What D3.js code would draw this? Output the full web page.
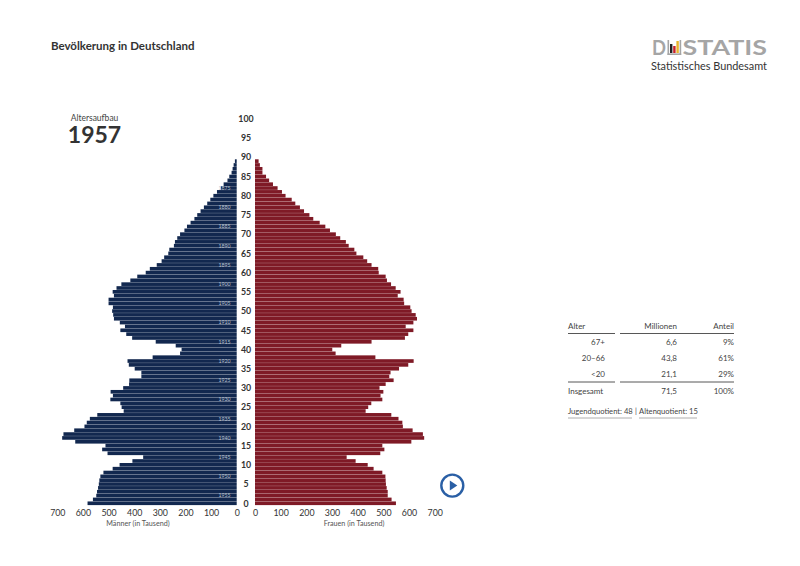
<!DOCTYPE html>
<html>
<head>
<meta charset="UTF-8">
<title>Bevölkerung in Deutschland</title>
<script src="https://cdn.jsdelivr.net/npm/d3@7"></script>
<style>
html, body { margin: 0; padding: 0; background: #fff; }
svg { display: block; }
text { font-family: Lato, sans-serif; fill: #333; }
</style>
</head>
<body>
<svg id="chart" width="800" height="566"></svg>
<script>
// population by age 0..89, thousands
var maleValues = [582, 561, 548, 545, 541, 538, 536, 532, 520, 484,
    457, 407, 365, 504, 525, 512, 630, 681, 676, 634,
    594, 585, 573, 544, 441, 449, 454, 493, 483, 492,
    443, 420, 419, 372, 372, 398, 421, 426, 328, 221,
    215, 238, 316, 408, 431, 454, 436, 456, 479, 482,
    486, 483, 500, 500, 479, 484, 469, 450, 415, 388,
    355, 339, 312, 293, 283, 267, 263, 245, 241, 232,
    221, 204, 194, 180, 165, 154, 141, 128, 115, 103,
    91, 77, 62, 51, 36, 29, 20, 16, 12, 7];
var femaleValues = [549, 532, 517, 517, 513, 510, 509, 508, 496, 462,
    439, 392, 357, 488, 504, 496, 609, 659, 654, 614,
    576, 574, 559, 531, 431, 441, 453, 496, 489, 500,
    485, 509, 540, 523, 528, 561, 597, 618, 469, 314,
    301, 336, 454, 584, 597, 617, 587, 617, 631, 626,
    610, 605, 581, 579, 556, 567, 548, 530, 514, 509,
    482, 480, 454, 437, 422, 395, 387, 365, 354, 332,
    315, 292, 274, 252, 227, 212, 191, 175, 157, 143,
    119, 105, 88, 70, 55, 43, 29, 29, 19, 14];
var ageTicks = d3.range(0, 101, 5);
var valueTicks = [0, 100, 200, 300, 400, 500, 600, 700];
var birthYears = d3.range(1875, 1956, 5);
var shownYear = 1957;

var tableHeader = ["Alter", "Millionen", "Anteil"];
var tableAges = ["67+", "20–66", "<20"];
var tableMillions = ["6,6", "43,8", "21,1"];
var tableShares = ["9%", "61%", "29%"];
var tableTotal = ["Insgesamt", "71,5", "100%"];

var svg = d3.select("#chart");

svg.append("text").attr("x", 51).attr("y", 49.5)
    .style("font-size", "11.5px").style("font-weight", 700)
    .text("Bevölkerung in Deutschland");

// scales
var xMale = d3.scaleLinear().domain([0, 700]).range([236.7, 57.3]);
var xFemale = d3.scaleLinear().domain([0, 700]).range([255, 434.7]);
var yBand = d3.scaleBand().domain(d3.range(0, 90)).range([505.3, 159.3]);
var yAge = d3.scaleLinear().domain([0, 100]).range([503.3, 118.7]);

// bars, the faint line between them comes from the small gap
svg.append("g").selectAll("rect").data(maleValues).enter().append("rect")
    .attr("x", function(d) { return xMale(d); })
    .attr("y", function(d, i) { return yBand(i); })
    .attr("width", function(d) { return xMale(0) - xMale(d); })
    .attr("height", yBand.bandwidth() - 0.2)
    .attr("fill", "#12284f");

svg.append("g").selectAll("rect").data(femaleValues).enter().append("rect")
    .attr("x", xFemale(0))
    .attr("y", function(d, i) { return yBand(i); })
    .attr("width", function(d) { return xFemale(d) - xFemale(0); })
    .attr("height", yBand.bandwidth() - 0.2)
    .attr("fill", "#7f1a26");

// birth years inside the male bars
svg.append("g").selectAll("text").data(birthYears).enter().append("text")
    .attr("x", 224.5)
    .attr("y", function(d) { return yBand(shownYear - d) + yBand.bandwidth() / 2 + 1.8; })
    .attr("text-anchor", "middle")
    .style("font-size", "5.2px")
    .style("fill", "#b9c1d0")
    .text(function(d) { return d; });

// axes
function styleAxis(g) {
    g.select(".domain").remove();
    g.selectAll(".tick line").remove();
    g.selectAll("text").style("font-family", "Lato, sans-serif")
        .style("font-size", "8.8px").style("fill", "#333");
}

svg.append("g").attr("transform", "translate(0,506.5)")
    .call(d3.axisBottom(xMale).tickValues(valueTicks).tickFormat(d3.format("d")).tickSize(0).tickPadding(3))
    .call(styleAxis);
svg.append("g").attr("transform", "translate(0,506.5)")
    .call(d3.axisBottom(xFemale).tickValues(valueTicks).tickFormat(d3.format("d")).tickSize(0).tickPadding(3))
    .call(styleAxis);

svg.append("g").attr("transform", "translate(246,0)")
    .call(d3.axisRight(yAge).tickValues(ageTicks).tickFormat(d3.format("d")).tickSize(0).tickPadding(0))
    .call(styleAxis)
    .call(function(g) {
        g.selectAll("text").attr("text-anchor", "middle").style("font-weight", 700);
    });

svg.append("text").attr("x", 138).attr("y", 525.5).attr("text-anchor", "middle")
    .style("font-size", "7.2px").style("fill", "#555").text("Männer (in Tausend)");
svg.append("text").attr("x", 354).attr("y", 525.5).attr("text-anchor", "middle")
    .style("font-size", "7.2px").style("fill", "#555").text("Frauen (in Tausend)");

// year
svg.append("text").attr("x", 94.5).attr("y", 120.5).attr("text-anchor", "middle")
    .style("font-size", "8.5px").style("fill", "#444").text("Altersaufbau");
svg.append("text").attr("x", 94.5).attr("y", 143).attr("text-anchor", "middle")
    .style("font-size", "23px").style("font-weight", 700).text(shownYear);

// play button
var play = svg.append("g").attr("transform", "translate(452.3,485.6)");
play.append("circle").attr("r", 11).attr("fill", "#fff")
    .attr("stroke", "#2a5fa5").attr("stroke-width", 2.4);
play.append("path").attr("d", "M-2.5,-5 L5,0 L-2.5,5 Z").attr("fill", "#2a5fa5");

// logo
var logo = svg.append("g");
logo.append("text").attr("x", 652).attr("y", 55)
    .style("font-size", "21px").style("font-weight", 700).style("fill", "#a5a5a5")
    .attr("textLength", 14).attr("lengthAdjust", "spacingAndGlyphs").text("D");
logo.append("rect").attr("x", 667.5).attr("y", 40).attr("width", 1.6).attr("height", 15).attr("fill", "#a5a5a5");
logo.append("rect").attr("x", 670).attr("y", 44).attr("width", 2.4).attr("height", 9).attr("fill", "#222");
logo.append("rect").attr("x", 673.2).attr("y", 46).attr("width", 2.4).attr("height", 7).attr("fill", "#c8202a");
logo.append("rect").attr("x", 676.4).attr("y", 41).attr("width", 2.4).attr("height", 12).attr("fill", "#e8b52a");
logo.append("rect").attr("x", 679.6).attr("y", 40).attr("width", 1.6).attr("height", 15).attr("fill", "#a5a5a5");
logo.append("rect").attr("x", 667.5).attr("y", 53.4).attr("width", 13.7).attr("height", 1.6).attr("fill", "#a5a5a5");
logo.append("text").attr("x", 682.5).attr("y", 55)
    .style("font-size", "21px").style("font-weight", 700).style("fill", "#a5a5a5")
    .attr("textLength", 84.5).attr("lengthAdjust", "spacingAndGlyphs").text("STATIS");
logo.append("text").attr("x", 651).attr("y", 69.5)
    .style("font-size", "11px").style("fill", "#333")
    .attr("textLength", 116).attr("lengthAdjust", "spacingAndGlyphs").text("Statistisches Bundesamt");

// table
var table = svg.append("g");
function cell(x, y, anchor, s) {
    return table.append("text").attr("x", x).attr("y", y).attr("text-anchor", anchor)
        .style("font-size", "8px").style("fill", "#444").text(s);
}
function rule(x1, x2, y, w) {
    table.append("line").attr("x1", x1).attr("x2", x2).attr("y1", y).attr("y2", y)
        .attr("stroke", "#444").attr("stroke-width", w);
}
cell(568, 328.5, "start", tableHeader[0]);
cell(677, 328.5, "end", tableHeader[1]);
cell(734, 328.5, "end", tableHeader[2]);
rule(568, 615, 333.5, 0.9);
rule(620, 734, 333.5, 0.9);
tableAges.forEach(function(a, i) {
    var y = 345 + i * 16;
    cell(605, y, "end", a);
    cell(677, y, "end", tableMillions[i]);
    cell(734, y, "end", tableShares[i]);
});
rule(568, 615, 382, 0.9);
rule(620, 734, 382, 0.9);
cell(568, 393.5, "start", tableTotal[0]);
cell(677, 393.5, "end", tableTotal[1]);
cell(734, 393.5, "end", tableTotal[2]);

cell(568, 414, "start", "Jugendquotient: 48").style("font-size", "7.6px");
cell(636, 414, "middle", "|").style("font-size", "7.6px");
cell(639, 414, "start", "Altenquotient: 15").style("font-size", "7.6px");
table.append("line").attr("x1", 568).attr("x2", 632).attr("y1", 418).attr("y2", 418)
    .attr("stroke", "#999").attr("stroke-width", 0.8);
table.append("line").attr("x1", 639).attr("x2", 697).attr("y1", 418).attr("y2", 418)
    .attr("stroke", "#999").attr("stroke-width", 0.8);
</script>
</body>
</html>
